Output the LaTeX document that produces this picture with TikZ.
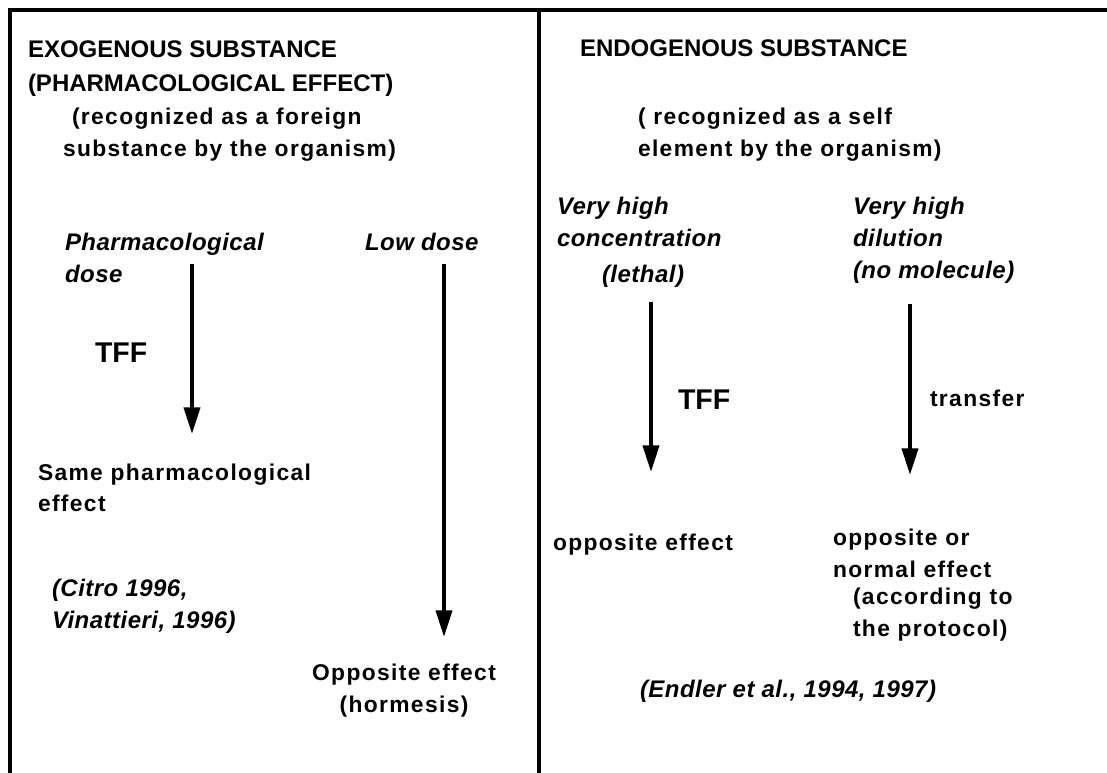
\documentclass[tikz,border=0pt]{standalone}
\usepackage{fontspec}
\setmainfont{Liberation Sans}
\newfontfamily\spacedfont{Liberation Sans}[LetterSpace=6]
\newfontfamily\slantfont{Liberation Sans}[LetterSpace=2]
\usetikzlibrary{arrows.meta}

% multi-line nodes are placed by the baseline of their last line
\tikzset{
  frame/.style={line width=3pt, line join=miter},
  txt/.style={anchor=base west, inner sep=0pt, outer sep=0pt, align=left},
  heading/.style={txt, font=\fontsize{18}{26}\selectfont\bfseries},
  remark/.style={txt, font=\spacedfont\fontsize{17.1}{24}\selectfont\bfseries},
  dosetext/.style={txt, font=\slantfont\fontsize{18}{24}\selectfont\bfseries\itshape},
  tfftext/.style={txt, font=\fontsize{21.4}{26}\selectfont\bfseries},
  flow/.style={line width=3pt, -{Triangle[width=12pt,length=20pt]}},
}

\begin{document}
\begin{tikzpicture}[x=0.75pt, y=-0.75pt]
\useasboundingbox (0,0) rectangle (1107,773);

% outer frame and column divider
\draw[frame] (10,773) -- (10,10) -- (1107,10);
\draw[frame] (539,10) -- (539,773);

% ---------- left column ----------
\node[heading] (exo) at (28,92) {EXOGENOUS SUBSTANCE\\(PHARMACOLOGICAL EFFECT)};
\node[remark] (foreign) at (63,157) {\hspace*{6.75pt}(recognized as a foreign\\substance by the organism)};

\node[dosetext] (pharmdose) at (65,283) {Pharmacological\\dose};
\node[dosetext] (lowdose) at (365,251) {Low dose};
\node[tfftext] (tffleft) at (95,363) {TFF};

\node[remark] (same) at (38,512) {Same pharmacological\\effect};
\node[dosetext] (citro) at (52,628) {(Citro 1996,\\Vinattieri, 1996)};

\node[remark, anchor=base, align=center] (hormesis) at (404,712) {Opposite effect\\(hormesis)};

\coordinate (pd-top) at (192,264);
\coordinate (pd-tip) at (192,434);
\coordinate (ld-top) at (444,264);
\coordinate (ld-tip) at (444,637);
\draw[flow] (pd-top) -- (pd-tip);
\draw[flow] (ld-top) -- (ld-tip);

% ---------- right column ----------
\node[heading] (endo) at (580,57) {ENDOGENOUS SUBSTANCE};
\node[remark] (self) at (638,157) {( recognized as a self\\element by the organism)};

\node[dosetext] (conc) at (557,247) {Very high\\concentration};
\node[dosetext] (lethal) at (602,283) {(lethal)};
\node[dosetext] (dil) at (853,279) {Very high\\dilution\\(no molecule)};

\node[tfftext] (tffright) at (678,410) {TFF};
\node[remark] (transfer) at (930,407) {transfer};

\node[remark] (oppright) at (553,550) {opposite effect};
\node[remark] (oppnormal) at (833,577) {opposite or\\normal effect};
\node[remark] (protocol) at (853,636) {(according to\\the protocol)};

\node[dosetext] (endler) at (640,697) {(Endler et al., 1994, 1997)};

\coordinate (hc-top) at (651,302);
\coordinate (hc-tip) at (651,472);
\coordinate (hd-top) at (910,304);
\coordinate (hd-tip) at (910,475);
\draw[flow] (hc-top) -- (hc-tip);
\draw[flow] (hd-top) -- (hd-tip);
\end{tikzpicture}
\end{document}
